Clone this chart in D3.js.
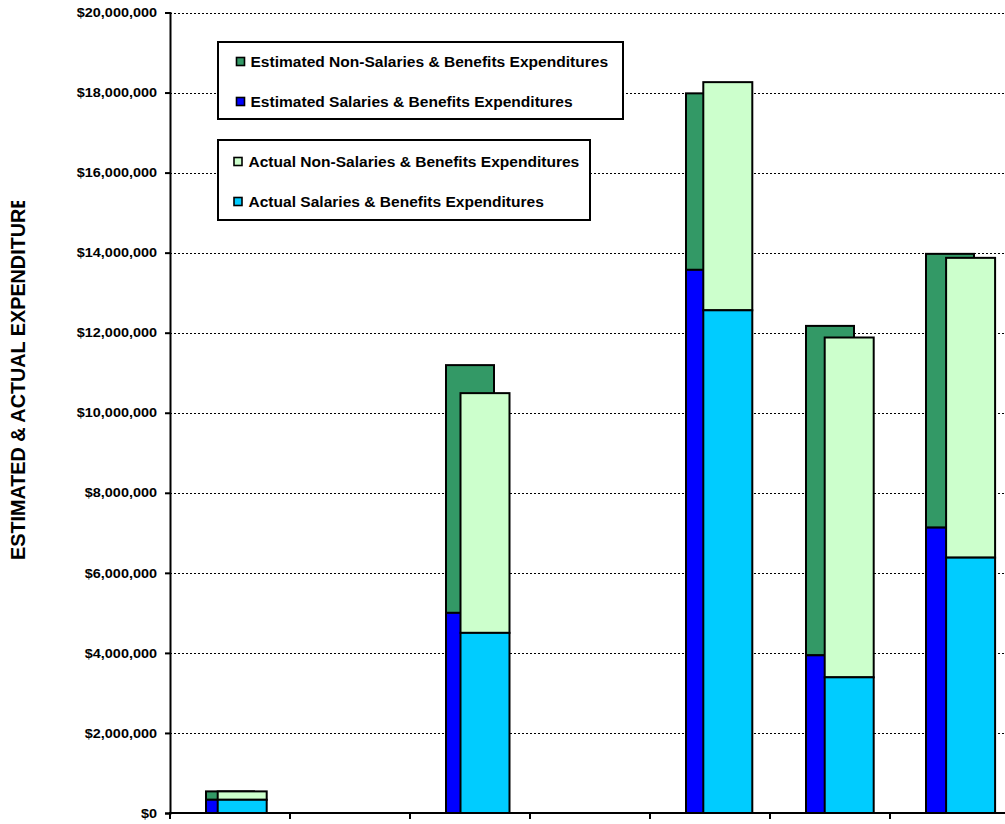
<!DOCTYPE html>
<html>
<head>
<meta charset="utf-8">
<script src="https://cdn.jsdelivr.net/npm/d3@7"></script>
<style>
  html, body { margin: 0; padding: 0; background: #fff; }
  svg { display: block; }
  text { font-family: Arial, "Liberation Sans", sans-serif; font-weight: bold; fill: #000; }
</style>
</head>
<body>
<svg id="chart" width="1005" height="824"></svg>
<script>
// ---- data ----
const categories = ["1", "2", "3", "4", "5", "6", "7"];
const estSalaries    = [330000, 0, 5000000, 0, 13570000, 3940000, 7130000];
const estNonSalaries = [210000, 0, 6190000, 0, 4410000, 8230000, 6840000];
const actSalaries    = [330000, 0, 4500000, 0, 12560000, 3390000, 6380000];
const actNonSalaries = [210000, 0, 5990000, 0, 5700000, 8490000, 7490000];
const yTicks = [0, 2000000, 4000000, 6000000, 8000000, 10000000, 12000000, 14000000, 16000000, 18000000, 20000000];
const legendEstimated = ["Estimated Non-Salaries & Benefits Expenditures", "Estimated Salaries & Benefits Expenditures"];
const legendActual = ["Actual Non-Salaries & Benefits Expenditures", "Actual Salaries & Benefits Expenditures"];
const yTitle = "ESTIMATED & ACTUAL EXPENDITURES";

const colors = {
  estNon: "#339966", estSal: "#0000FF",
  actNon: "#CCFFCC", actSal: "#00CCFF"
};

(function () {
const svg = d3.select("#chart");
const pL = 170, pB = 813, pT = 12.5, pR = 1010;
const stretch = 1.11;

function widen(sel) {
  sel.each(function () {
    const len = this.getComputedTextLength();
    d3.select(this).attr("textLength", len * stretch).attr("lengthAdjust", "spacingAndGlyphs");
  });
}

const y = d3.scaleLinear().domain([0, 20000000]).range([pB, pT]);
const x = d3.scaleBand().domain(categories).range([pL, pR]);
const x2 = d3.scaleBand().domain(categories).range([pL, pL + 7 * 121.4]);

// gridlines
svg.append("g").selectAll("line").data(yTicks.filter(d => d > 0)).join("line")
  .attr("x1", pL).attr("x2", 1005)
  .attr("y1", d => Math.round(y(d)) + 0.5).attr("y2", d => Math.round(y(d)) + 0.5)
  .attr("stroke", "#000").attr("stroke-width", 1).attr("stroke-dasharray", "2,2");

function drawStack(g, xs, off, w, sal, non, cSal, cNon) {
  categories.forEach((c, i) => {
    const x0 = xs(c) + off;
    const s = sal[i], n = non[i];
    if (s + n <= 0) return;
    g.append("rect").attr("x", x0).attr("width", w)
      .attr("y", y(s + n)).attr("height", y(s) - y(s + n))
      .attr("fill", cNon).attr("stroke", "#000").attr("stroke-width", 2);
    g.append("rect").attr("x", x0).attr("width", w)
      .attr("y", y(s)).attr("height", y(0) - y(s))
      .attr("fill", cSal).attr("stroke", "#000").attr("stroke-width", 2);
  });
}
drawStack(svg.append("g"), x, 36, 48, estSalaries, estNonSalaries, colors.estSal, colors.estNon);
drawStack(svg.append("g"), x2, 47.7, 49, actSalaries, actNonSalaries, colors.actSal, colors.actNon);

// y axis
const yAxis = d3.axisLeft(y).tickValues(yTicks).tickSize(5).tickPadding(8)
  .tickFormat(d => "$" + d3.format(",")(d));
const gy = svg.append("g").attr("transform", `translate(${pL},0)`).call(yAxis);
gy.select(".domain").attr("stroke", "#000").attr("stroke-width", 2);
gy.selectAll(".tick line").attr("stroke", "#000").attr("stroke-width", 2);
gy.selectAll(".tick text").style("font-size", "13px").style("font-weight", "bold")
  .style("font-family", "Arial, 'Liberation Sans', sans-serif")
  .attr("fill", "#000");
widen(gy.selectAll(".tick text"));

// x axis
const xAxis = d3.axisBottom(x).tickSize(6).tickFormat("");
const gx = svg.append("g").attr("transform", `translate(0,${pB})`).call(xAxis);
gx.select(".domain").remove();
gx.selectAll(".tick line").attr("transform", "translate(-60,0)").attr("stroke", "#000").attr("stroke-width", 2);
gx.append("line").attr("x1", pL - 1).attr("x2", 1005).attr("y1", 0).attr("y2", 0)
  .attr("stroke", "#000").attr("stroke-width", 2);

// y title (clipped at the top as in the original)
svg.append("clipPath").attr("id", "titleClip").append("rect")
  .attr("x", 0).attr("y", 201).attr("width", 60).attr("height", 500);
svg.append("g").attr("clip-path", "url(#titleClip)").append("text")
  .attr("transform", "translate(25,560) rotate(-90)")
  .attr("text-anchor", "start")
  .style("font-size", "19.8px")
  .text(yTitle);

// legends
function legend(x0, y0, w, h, items, cols, rowYs, symX, textX) {
  const g = svg.append("g");
  g.append("rect").attr("x", x0).attr("y", y0).attr("width", w).attr("height", h)
    .attr("fill", "#fff").attr("stroke", "#000").attr("stroke-width", 2);
  items.forEach((t, i) => {
    g.append("rect").attr("x", symX).attr("y", rowYs[i] - 4.5).attr("width", 8).attr("height", 8)
      .attr("fill", cols[i]).attr("stroke", "#000").attr("stroke-width", 1.6);
    const tx = g.append("text").attr("x", textX).attr("y", rowYs[i]).attr("dy", "0.35em")
      .style("font-size", "14px").text(t);
    widen(tx);
  });
}
legend(218, 42, 405, 77, legendEstimated, [colors.estNon, colors.estSal], [62, 102], 236.5, 250.5);
legend(218, 140, 372, 80, legendActual, [colors.actNon, colors.actSal], [162, 202], 234, 248.5);
})();
</script>
</body>
</html>
